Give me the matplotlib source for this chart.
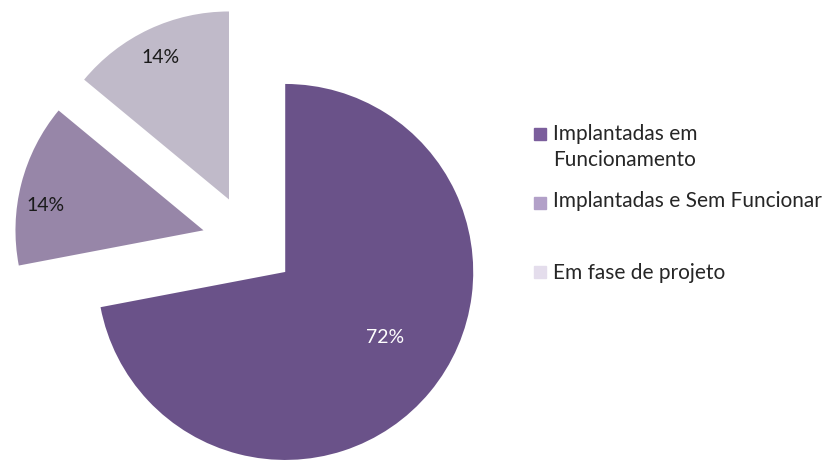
import numpy as np
import matplotlib.pyplot as plt
from matplotlib.patches import Rectangle

labels = ["Implantadas em\nFuncionamento", "Implantadas e Sem Funcionar", "Em fase de projeto"]
shares = [72, 14, 14]
pie_colors = ["#6a5289", "#9786a8", "#c0bac9"]
legend_colors = ["#7b5e9c", "#b2a0c8", "#e4ddec"]
pct_colors = ["white", "#1a1a1a", "#1a1a1a"]

plt.rcParams["font.family"] = ["Lato", "DejaVu Sans"]

W, H = 828, 462
R = 188.0          # pie radius in pixels
cx, cy = 249, 242  # pie centre in pixels (from top-left)

fig = plt.figure(figsize=(W / 100, H / 100), dpi=100)
ax = fig.add_axes([0, 0, 1, 1])
ax.set_axis_off()

wedges, _ = ax.pie(
    shares,
    colors=pie_colors,
    startangle=90,
    counterclock=False,
    explode=[0.25, 0.25, 0.25],
    radius=1.0,
)
ax.set_xlim(-cx / R, (W - cx) / R)
ax.set_ylim(-(H - cy) / R, cy / R)
ax.set_aspect("equal")

# percentage labels (distance from wedge tip, small angle nudge)
pct_dist = [0.635, 0.85, 0.84]
pct_nudge = [6.5, 5.5, 0.5]
for w, s, d, a, c in zip(wedges, shares, pct_dist, pct_nudge, pct_colors):
    mid = np.deg2rad((w.theta1 + w.theta2) / 2 + a)
    x0, y0 = w.center
    ax.text(x0 + d * np.cos(mid), y0 + d * np.sin(mid), f"{s}%",
            ha="center", va="center", color=c, fontsize=14)

# legend, placed like the original
swatch_y = [134, 202.5, 272]
baselines = [[140, 166], [207], [279]]
for lab, col, sy, bl in zip(labels, legend_colors, swatch_y, baselines):
    fig.patches.append(Rectangle((534 / W, 1 - (sy + 6) / H), 12 / W, 12 / H,
                                 transform=fig.transFigure, color=col))
    for line, y in zip(lab.split("\n"), bl):
        fig.text(553 / W, 1 - y / H, line, ha="left", va="baseline",
                 fontsize=15, color="#262626")

fig.savefig("out.png", dpi=100)
